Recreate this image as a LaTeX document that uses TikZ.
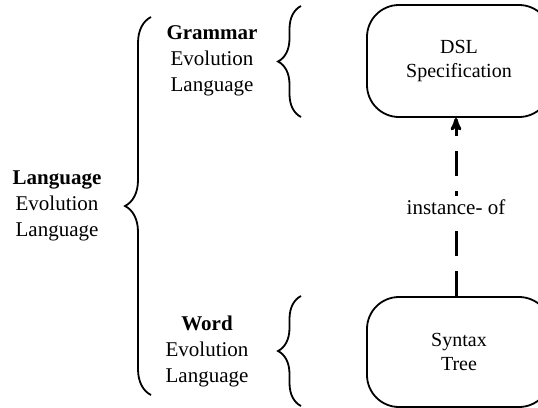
\documentclass[tikz,border=0pt]{standalone}
\usepackage{fontspec}
\setmainfont{Liberation Serif}
\usepackage{tikz}
\usetikzlibrary{positioning, arrows, decorations.pathreplacing}

\begin{document}
\begin{tikzpicture}[x=1pt, y=-1pt, >=stealth', semithick,
    txt/.style={align=center, inner sep=0pt, font=\fontsize{21}{26}\selectfont},
    blk/.style={draw, line width=1.8pt, rounded corners=32pt, minimum width=184pt, align=center, font=\fontsize{20}{24}\selectfont},
    brc/.style={draw, line width=1.8pt, decorate, decoration={brace, amplitude=#1}}]
  \clip (0,0) rectangle (538,407);

  \node[txt] (lang) at (57,206) {\textbf{Language}\\Evolution\\Language};
  \node[txt] (gram) at (212,61) {\textbf{Grammar}\\Evolution\\Language};
  \node[txt] (word) at (207,351) {\textbf{Word}\\Evolution\\Language};

  \node[blk, minimum height=112pt] (dsl) at (459,61) {DSL\\Specification};
  \node[blk, minimum height=110pt] (syn) at (459,352) {Syntax\\Tree};

  % braces
  \coordinate (langtop) at (151,17);
  \coordinate (langbot) at (151,395);
  \coordinate (gramtop) at (301,6);
  \coordinate (grambot) at (301,117);
  \coordinate (wordtop) at (301,296);
  \coordinate (wordbot) at (301,406);
  \path[brc=26pt] (langbot) -- (langtop);
  \path[brc=23pt] (grambot) -- (gramtop);
  \path[brc=23pt] (wordbot) -- (wordtop);

  \draw[->, line width=3pt, dash pattern=on 25pt off 15pt] ([xshift=-3pt]syn.north) -- node[fill=white, txt, inner sep=4pt] {instance- of} ([xshift=-3pt]dsl.south);
\end{tikzpicture}
\end{document}
